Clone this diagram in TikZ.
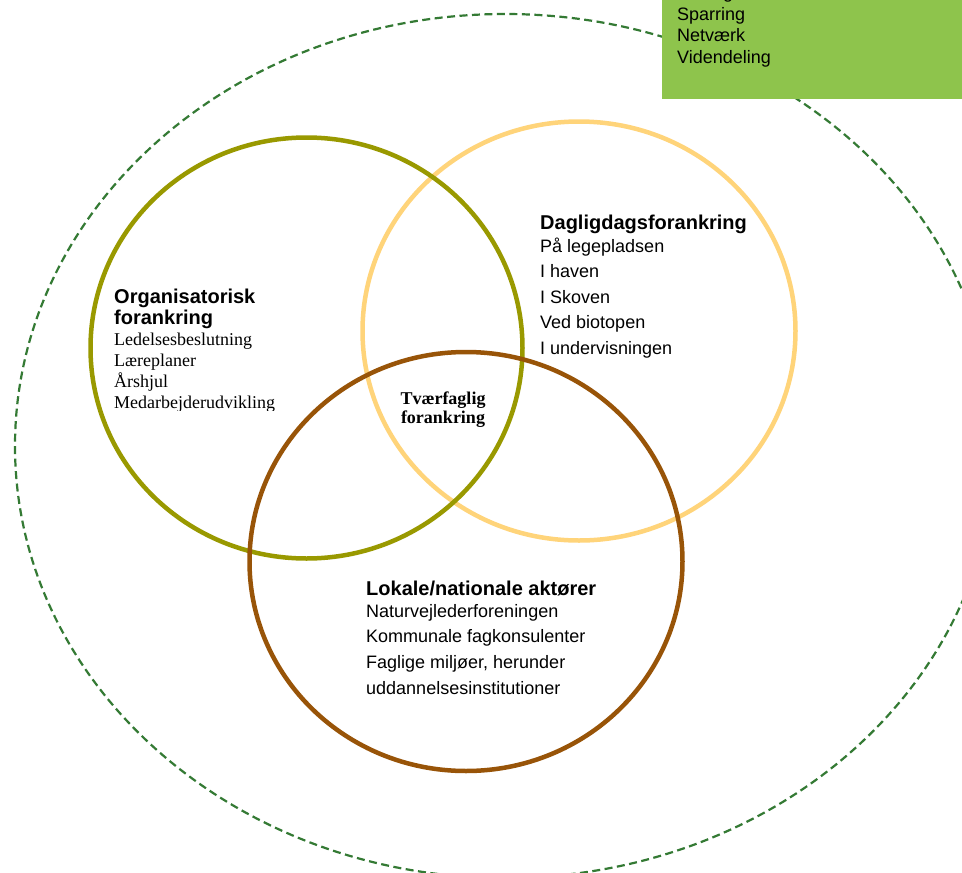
\documentclass[tikz,border=0pt]{standalone}
\usepackage{fontspec}
\setmainfont{Liberation Sans}
\newfontfamily\serifF{Liberation Serif}
\definecolor{olivec}{RGB}{153,153,0}
\definecolor{yellowc}{RGB}{255,212,122}
\definecolor{brownc}{RGB}{152,84,8}
\definecolor{dashgreen}{RGB}{52,122,52}
\definecolor{boxgreen}{RGB}{142,196,76}
\tikzset{
  ring/.style={line width=4.5pt},
  outerring/.style={draw=dashgreen, line width=2.2pt, dash pattern=on 8pt off 4.5pt},
  head/.style={anchor=base west, inner sep=0pt, align=left, font=\bfseries\fontsize{20}{21}\selectfont},
  items/.style={anchor=base west, inner sep=0pt, align=left, font=\fontsize{18}{25.6}\selectfont},
  seritems/.style={anchor=base west, inner sep=0pt, align=left, font=\serifF\fontsize{18}{21}\selectfont},
  center/.style={anchor=base, inner sep=0pt, align=center, font=\serifF\bfseries\fontsize{18}{18.5}\selectfont},
  boxitems/.style={anchor=base west, inner sep=0pt, align=left, font=\fontsize{18}{21.5}\selectfont}
}
\begin{document}
\begin{tikzpicture}[x=1pt,y=-1pt]
\useasboundingbox (0,0) rectangle (962,873);
\clip (0,0) rectangle (962,873);
\fill[white] (0,0) rectangle (962,873);
% outer dashed ellipse
\draw[outerring] (505,446) ellipse [x radius=490pt, y radius=432pt];
% green box
\fill[boxgreen] (662,-20) rectangle (975,99);
% (multi-line nodes: anchor base = last line's baseline)
\node[boxitems] (boxtext) at (677,63) {Læring\\Sparring\\Netværk\\Videndeling};
% circles
\draw[ring, draw=yellowc] (579,331) ellipse [x radius=216.5pt, y radius=209.5pt];
\draw[ring, draw=olivec] (306.5,348) ellipse [x radius=216pt, y radius=210.5pt];
\draw[ring, draw=brownc] (466,561.5) ellipse [x radius=216.5pt, y radius=209.5pt];
% Organisatorisk
\node[head] (orghead) at (114,324) {Organisatorisk\\forankring};
\begin{scope}
\clip (100,330) rectangle (300,410);
\node[seritems] (orgitems) at (114,408) {Ledelsesbeslutning\\Læreplaner\\Årshjul\\Medarbejderudvikling};
\end{scope}
% Dagligdags
\node[head] (daghead) at (540,229) {Dagligdagsforankring};
\node[items] (dagitems) at (540,354.4) {På legepladsen\\I haven\\I Skoven\\Ved biotopen\\I undervisningen};
% Lokale
\node[head] (lokhead) at (366,595) {Lokale/nationale aktører};
\node[items] (lokitems) at (366,694) {Naturvejlederforeningen\\Kommunale fagkonsulenter\\Faglige miljøer, herunder\\uddannelsesinstitutioner};
% center
\node[center] (tvaer) at (443,423) {Tværfaglig\\forankring};
\end{tikzpicture}
\end{document}
